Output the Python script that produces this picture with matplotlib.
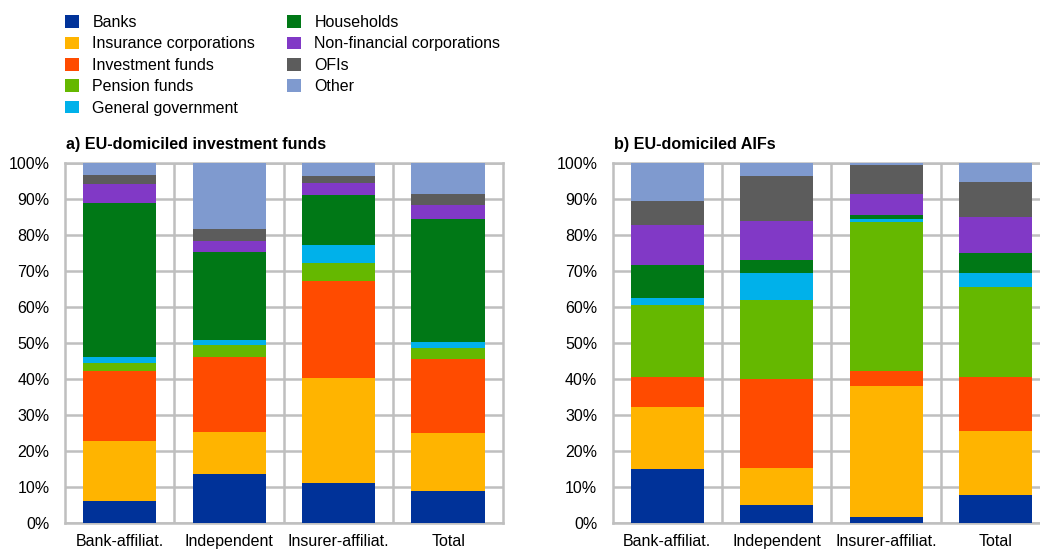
import numpy as np
import matplotlib
matplotlib.use('Agg')
import matplotlib.pyplot as plt
from matplotlib.patches import Patch
from matplotlib.ticker import PercentFormatter

plt.rcParams['font.family'] = ['Liberation Sans', 'DejaVu Sans']

categories = ['Bank-affiliat.', 'Independent', 'Insurer-affiliat.', 'Total']
sectors = ['Banks', 'Insurance corporations', 'Investment funds', 'Pension funds',
           'General government', 'Households', 'Non-financial corporations', 'OFIs', 'Other']
colors = ['#003299', '#FFB400', '#FF4B00', '#65B800', '#00B1EA',
          '#007816', '#8139C6', '#5C5C5C', '#7F9ACF']

# shares (%) per sector, one value per category
funds_a = {
    'Banks':                      [6.2, 13.6, 11.1, 9.0],
    'Insurance corporations':     [16.7, 11.7, 29.2, 16.0],
    'Investment funds':           [19.2, 20.7, 26.8, 20.4],
    'Pension funds':              [2.2, 3.3, 5.2, 3.1],
    'General government':         [1.7, 1.6, 5.0, 1.8],
    'Households':                 [42.9, 24.4, 13.9, 34.0],
    'Non-financial corporations': [5.3, 3.1, 3.2, 4.1],
    'OFIs':                       [2.5, 3.3, 1.9, 3.0],
    'Other':                      [3.3, 18.3, 3.7, 8.6],
}
aifs_b = {
    'Banks':                      [15.0, 5.1, 1.6, 7.9],
    'Insurance corporations':     [17.1, 10.3, 36.3, 17.7],
    'Investment funds':           [8.5, 24.6, 4.2, 15.0],
    'Pension funds':              [19.8, 21.8, 41.4, 25.0],
    'General government':         [2.0, 7.5, 0.9, 3.9],
    'Households':                 [9.3, 3.8, 1.2, 5.4],
    'Non-financial corporations': [11.1, 10.7, 5.8, 10.0],
    'OFIs':                       [6.7, 12.5, 7.9, 9.7],
    'Other':                      [10.5, 3.7, 0.7, 5.4],
}

grid_col = '#BFBFBF'
fs = 11.5


def draw_panel(ax, data, title):
    x = np.arange(len(categories))
    bottom = np.zeros(len(categories))
    for sec, col in zip(sectors, colors):
        vals = np.array(data[sec])
        ax.bar(x, vals, 0.67, bottom=bottom, color=col, zorder=3)
        bottom += vals
    ax.set_xlim(-0.5, len(categories) - 0.5)
    ax.set_ylim(0, 100)
    ax.set_yticks(np.arange(0, 101, 10))
    ax.yaxis.set_major_formatter(PercentFormatter(decimals=0))
    ax.set_xticks(x)
    ax.set_xticklabels(categories)
    ax.set_xticks(x[:-1] + 0.5, minor=True)
    ax.grid(axis='y', which='major', color=grid_col, lw=1.8, zorder=0)
    ax.grid(axis='x', which='minor', color=grid_col, lw=1.8, zorder=0)
    ax.tick_params(which='both', length=0, labelsize=fs, colors='black')
    ax.tick_params(axis='y', pad=11)
    ax.tick_params(axis='x', pad=8)
    for s in ax.spines.values():
        s.set_color(grid_col)
        s.set_linewidth(1.8)
    ax.set_title(title, loc='left', fontsize=11.6, fontweight='bold', pad=10, x=0.003)


fig = plt.figure(figsize=(10.4, 5.49), dpi=100)
ax1 = fig.add_axes([0.0625, 0.0474, 0.421, 0.656])
ax2 = fig.add_axes([0.589, 0.0474, 0.421, 0.656])
draw_panel(ax1, funds_a, 'a) EU-domiciled investment funds')
draw_panel(ax2, aifs_b, 'b) EU-domiciled AIFs')

handles = [Patch(facecolor=c, edgecolor='none') for c in colors]
fig.legend(handles, sectors, loc='upper left', bbox_to_anchor=(0.052, 0.993),
           ncol=2, frameon=False, fontsize=fs, handlelength=0.85, handleheight=0.85,
           labelspacing=0.4, handletextpad=0.85, columnspacing=2.0, borderaxespad=0.3)

fig.savefig('out.png', dpi=100)
